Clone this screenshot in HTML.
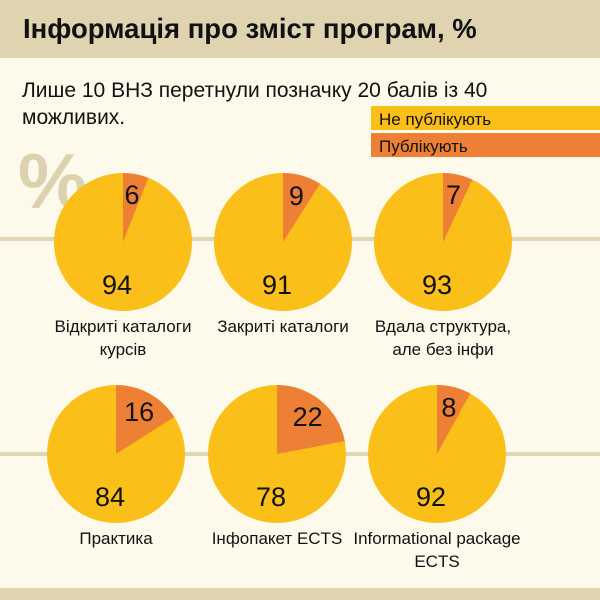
<!DOCTYPE html>
<html><head><meta charset="utf-8"><style>
body{margin:0;background:#fdfaeb;}
svg{display:block;font-family:"Liberation Sans Narrow","Liberation Sans","DejaVu Sans",sans-serif;}
</style></head><body>
<svg width="600" height="600" viewBox="0 0 600 600">
<rect x="0" y="0" width="600" height="600" fill="#fdfaeb"/>
<rect x="0" y="0" width="600" height="58" fill="#dfd3b0"/>
<text x="23" y="38" font-size="27.5" font-weight="bold" fill="#111" font-family="Liberation Sans, sans-serif">Інформація про зміст програм, %</text>
<text x="22" y="97" font-size="21" fill="#111">Лише 10 ВНЗ перетнули позначку 20 балів із 40</text>
<text x="22" y="124" font-size="21" fill="#111">можливих.</text>
<text x="18" y="208" font-size="78" font-weight="bold" fill="#ddd2b0" font-family="Liberation Sans, sans-serif">%</text>
<rect x="0" y="237" width="600" height="4" fill="#e0d5b5"/>
<rect x="0" y="452" width="600" height="4" fill="#e0d5b5"/>
<rect x="0" y="588" width="600" height="12" fill="#dfd3b0"/>
<g>
<rect x="371" y="106" width="229" height="24" fill="#fbbf1a"/>
<text x="379" y="125" font-size="17" fill="#111">Не публікують</text>
<rect x="371" y="133" width="229" height="24" fill="#ee8035"/>
<text x="379" y="152" font-size="17" fill="#111">Публікують</text>
</g>
<g id="pies"></g>
</svg>
<script>
const categories1 = ["Відкриті каталоги|курсів","Закриті каталоги","Вдала структура,|але без інфи","Практика","Інфопакет ECTS","Informational package|ECTS"];
const publishedValues = [6,9,7,16,22,8];
const notPublishedValues = [94,91,93,84,78,92];
const cxs=[123,283,443,116,277,437], cys=[242,242,242,454,454,454], R=69;
const g=document.getElementById('pies');
const NS='http://www.w3.org/2000/svg';
function pt(cx,cy,r,a){return [cx+r*Math.sin(a),cy-r*Math.cos(a)];}
categories1.forEach((c,i)=>{
  const cx=cxs[i],cy=cys[i],p=publishedValues[i],q=notPublishedValues[i];
  const tot=p+q, a=p/tot*2*Math.PI;
  const circ=document.createElementNS(NS,'circle');
  circ.setAttribute('cx',cx);circ.setAttribute('cy',cy);circ.setAttribute('r',R);circ.setAttribute('fill','#fbbf1a');
  
  
  g.appendChild(circ);
  const e=pt(cx,cy,R,a);
  const path=document.createElementNS(NS,'path');
  path.setAttribute('d',`M${cx},${cy}L${cx},${cy-R}A${R},${R} 0 ${a>Math.PI?1:0} 1 ${e[0]},${e[1]}Z`);
  path.setAttribute('fill','#ee8035');
  
  
  g.appendChild(path);
  const m=pt(cx,cy,48,a/2);
  const t1=document.createElementNS(NS,'text');
  t1.setAttribute('x',m[0]);t1.setAttribute('y',m[1]+9);t1.setAttribute('font-size','27');t1.setAttribute('text-anchor','middle');t1.setAttribute('fill','#111');
  t1.textContent=p;
  
  
  g.appendChild(t1);
  const t2=document.createElementNS(NS,'text');
  t2.setAttribute('x',cx-6);t2.setAttribute('y',cy+52);t2.setAttribute('font-size','27');t2.setAttribute('text-anchor','middle');t2.setAttribute('fill','#111');
  t2.textContent=q;
  
  
  g.appendChild(t2);
  c.split('|').forEach((ln,j)=>{
    const t=document.createElementNS(NS,'text');
    t.setAttribute('x',cx);t.setAttribute('y',cy+90+j*23);t.setAttribute('font-size','17');t.setAttribute('text-anchor','middle');t.setAttribute('fill','#111');
    t.textContent=ln;
    
    
    g.appendChild(t);
  });
});
</script>
</body></html>
